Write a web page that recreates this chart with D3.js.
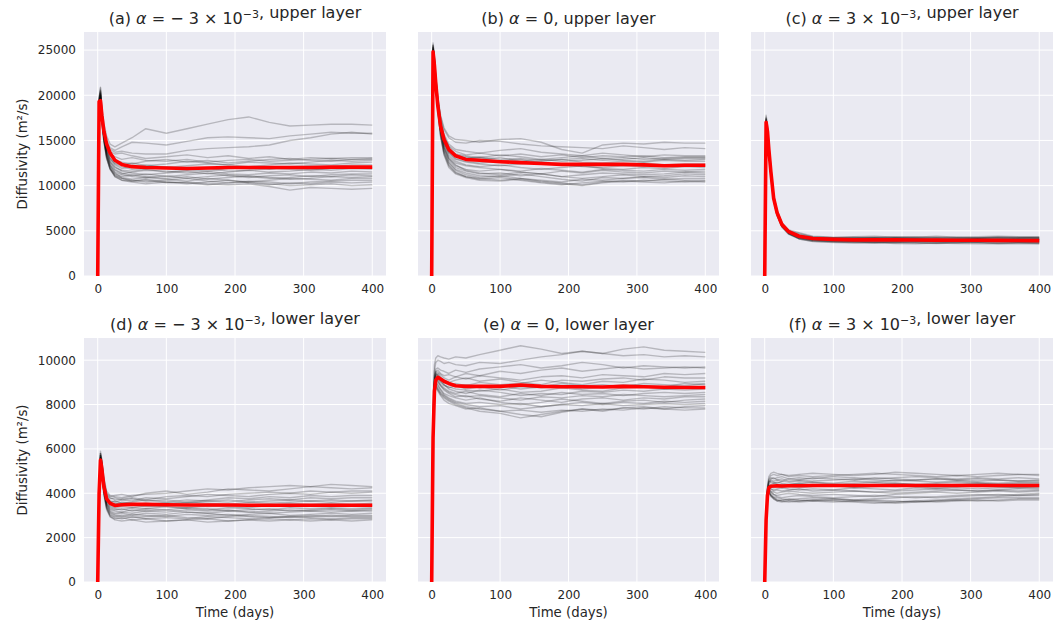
<!DOCTYPE html>
<html>
<head>
<meta charset="utf-8">
<script src="https://cdn.jsdelivr.net/npm/d3@7"></script>
<style>
  body { margin: 0; background: #fff; }
  svg { display: block; }
</style>
</head>
<body>
<div id="chart"></div>
<script>
// sample times (days) shared by every series
const days = [0, 2, 4, 6, 9, 13, 18, 25, 35, 50, 70, 100, 130, 160, 190, 220, 250, 280, 310, 340, 370, 400];

const xTicks = [0, 100, 200, 300, 400];
const upperTicks = [0, 5000, 10000, 15000, 20000, 25000];
const lowerTicks = [0, 2000, 4000, 6000, 8000, 10000];

// (a) alpha = -3e-3, upper layer
const upperNeg = [
  [0,19800,20600,18600,16900,15500,14600,14300,14700,15300,16300,15800,16300,16800,17300,17600,17000,16600,16700,16800,16800,16700],
  [0,19500,20200,18200,16400,15000,14200,13900,14300,14800,14700,14500,14900,15300,15400,15300,15200,15500,15700,15900,15800,15800],
  [0,19000,19800,17800,16000,14700,14000,13700,13800,13600,13500,13500,13900,14100,14200,14300,14500,15000,15300,15700,15900,15700],
  [0,19200,20000,18000,16200,14600,13800,13500,13600,13300,13000,13200,13400,13100,13300,13000,13200,12900,13100,13000,13100,13100],
  [0,18800,19500,17600,15700,14200,13500,13200,12900,13100,12800,12700,12900,12600,12800,12900,12700,12800,12900,13000,12900,13000],
  [0,19600,20800,18400,16200,14300,13300,12800,12600,12400,12700,12900,12600,12800,12500,12700,12900,13000,12800,12700,12900,12900],
  [0,18600,19300,17300,15400,13900,13000,12500,12300,12500,12200,12400,12700,12500,12300,12600,12500,12400,12600,12800,12700,12800],
  [0,19100,20100,17900,15800,14000,12900,12300,11900,12100,12300,12000,12200,12400,12300,12100,12300,12500,12400,12300,12500,12600],
  [0,19400,20400,18100,15900,14100,13100,12400,12100,11800,11900,12100,11800,11600,11900,12000,11800,12100,12200,12100,12300,12300],
  [0,18900,19700,17500,15300,13600,12600,12000,11700,11600,11800,11500,11700,11900,11600,11700,11900,11800,11700,11900,12000,12000],
  [0,19300,20300,17800,15500,13700,12700,12100,11600,11400,11200,11400,11600,11300,11500,11700,11500,11600,11800,11700,11900,11800],
  [0,18700,19400,17200,15000,13300,12300,11700,11300,11500,11700,11600,11400,11600,11300,11200,11400,11300,11500,11400,11600,11500],
  [0,19700,20900,18300,15800,13800,12500,11800,11400,11100,11300,11000,11200,11400,11100,10900,11100,11200,11000,11200,11300,11300],
  [0,19000,19900,17600,15300,13400,12200,11500,11200,11000,10900,11100,10800,11000,11200,11000,10800,10900,11100,11000,11200,11100],
  [0,18500,19200,17000,14800,13000,11900,11300,11000,11200,11000,10800,11000,10700,10900,11100,10900,10700,10800,11000,10900,11000],
  [0,19500,20500,18000,15600,13600,12200,11400,10900,10700,10900,10700,10500,10800,10600,10400,10600,10800,10700,10600,10800,10800],
  [0,18800,19600,17300,15000,13100,11800,11100,10800,10600,10400,10600,10800,10500,10300,10500,10400,10200,10400,10500,10600,10600],
  [0,19200,20200,17700,15200,13200,11900,11000,10600,10500,10700,10400,10200,10400,10600,10300,10100,10300,10200,10400,10300,10400],
  [0,18600,19500,17100,14900,13000,11800,11000,10600,10400,10200,10400,10300,10100,10300,10400,10200,10000,10100,10200,10000,10100],
  [0,19100,20000,17600,15100,13300,12000,11200,10800,10500,10600,10300,10400,10200,10100,10200,9900,9500,9800,9700,9600,9700]
];
const upperNegMean = [0,19300,19400,17800,16000,14600,13600,12800,12350,12100,12000,11950,11900,11950,12000,12000,12000,12000,12000,12050,12050,12050];

// (b) alpha = 0, upper layer
const upperZero = [
  [0,25200,23800,22000,19800,17800,16400,15500,15100,15000,14800,15100,15200,14800,14000,13600,14500,14700,14600,14800,14700,14700],
  [0,24800,23600,21700,19600,17600,16200,15300,14800,14700,15000,14900,14600,14400,14300,14200,14100,14400,14200,14000,14200,14100],
  [0,25500,24200,22100,19700,17300,15700,14600,14000,13800,13600,13900,14100,13700,13500,13300,13600,13400,13200,13400,13300,13300],
  [0,24600,23300,21200,19000,16900,15400,14400,13800,13400,13600,13300,13500,13200,13400,13100,13300,13200,13300,13100,13200,13200],
  [0,25800,24300,22200,19600,17100,15500,14300,13500,13300,13100,13400,13200,12900,13100,13300,13000,13100,12900,13000,13100,13100],
  [0,24900,23500,21400,19200,16900,15300,14100,13400,13000,13200,12900,13000,12800,12900,13000,12800,12900,13100,12900,13000,13000],
  [0,25300,23900,21600,19300,16700,15000,13900,13300,13200,12900,13100,12700,12900,12700,12800,13000,12800,12700,12900,12800,12900],
  [0,24700,23400,21300,18900,16500,14900,13800,13200,13000,13100,12700,12500,12700,12900,12600,12500,12700,12600,12800,12700,12700],
  [0,25400,24000,21800,19200,16600,14800,13700,13000,12700,12500,12700,12900,12500,12300,12200,12400,12300,12500,12300,12400,12400],
  [0,24500,23200,21000,18700,16300,14700,13600,12900,12600,12400,12200,12400,12600,12300,12100,12000,12200,12100,12300,12200,12200],
  [0,25100,23700,21500,19000,16400,14600,13400,12700,12300,12100,12300,12000,11800,12000,12200,11900,11800,12000,11900,12100,12000],
  [0,24800,23500,21200,18800,16200,14400,13200,12500,12200,12000,11800,11600,11900,11700,11500,11800,11700,11600,11800,11700,11800],
  [0,25600,24100,21700,19100,16300,14300,13000,12200,11800,11600,11800,11500,11300,11600,11400,11700,11500,11400,11600,11500,11600],
  [0,24600,23200,21000,18500,16000,14200,13000,12300,11700,11400,11200,11500,11300,11000,11200,11400,11300,11200,11300,11500,11400],
  [0,25000,23600,21300,18700,16100,14100,12800,12000,11600,11300,11400,11100,11300,11000,10800,11000,11200,11000,11100,11300,11200],
  [0,25300,23800,21400,18800,16000,13900,12600,11800,11400,11100,11000,11300,11000,10700,10500,10900,10800,11000,10900,11100,11000],
  [0,24700,23300,20900,18300,15700,13800,12500,11700,11200,10900,11100,10800,10600,10400,10700,10600,10800,10900,10700,10800,10800],
  [0,25200,23700,21200,18400,15600,13600,12300,11500,11000,10800,10600,10800,10500,10300,10100,10400,10600,10500,10700,10600,10600],
  [0,24900,23400,21000,18200,15400,13500,12200,11400,11000,10700,10900,10600,10300,10100,10300,10500,10400,10600,10500,10400,10500],
  [0,25500,24000,21500,18500,15500,13400,12000,11300,10900,10600,10500,10700,10400,10200,10000,10300,10500,10400,10300,10500,10400]
];
const upperZeroMean = [0,24800,23300,21300,18800,16600,15100,14000,13300,12900,12800,12650,12550,12450,12350,12350,12350,12350,12300,12200,12250,12250];

// (c) alpha = 3e-3, upper layer
const upperPos = [
  [0,17800,16700,14600,12000,9000,7300,5900,5100,4800,4400,4300,4350,4400,4300,4350,4250,4300,4350,4400,4350,4350],
  [0,17500,16400,14300,11800,8900,7200,5900,5000,4700,4300,4250,4200,4300,4250,4200,4300,4250,4200,4300,4250,4300],
  [0,17300,16200,14200,11700,8800,7100,5800,5000,4500,4250,4200,4150,4100,4200,4150,4100,4200,4150,4100,4200,4200],
  [0,17100,16100,14100,11600,8700,7100,5800,4950,4450,4200,4100,4150,4200,4100,4050,4150,4100,4150,4200,4150,4150],
  [0,16900,15900,13900,11400,8600,7000,5700,4900,4400,4150,4100,4050,4100,4150,4100,4000,4050,4100,4050,4100,4100],
  [0,16800,15800,13800,11300,8500,6900,5700,4850,4350,4100,4050,4100,4000,4050,4100,4050,4000,4050,4100,4050,4050],
  [0,17200,16100,14000,11500,8600,7000,5700,4900,4400,4200,4000,3950,4050,4000,3950,4000,4050,3950,4000,4000,4000],
  [0,17000,16000,14000,11500,8600,6950,5650,4850,4300,4050,4000,4050,3950,3900,4000,3950,3900,4000,3950,3950,3950],
  [0,16700,15700,13700,11200,8400,6900,5600,4800,4350,4100,3950,3900,3950,4000,3900,3850,3950,3900,3850,3900,3900],
  [0,17400,16300,14200,11600,8700,7000,5650,4800,4300,4000,3900,3950,3900,3850,3900,3950,3850,3800,3900,3850,3850],
  [0,16900,15900,13800,11300,8500,6850,5550,4750,4250,4000,3950,3850,3800,3900,3850,3800,3850,3900,3850,3800,3800],
  [0,17100,16000,13900,11400,8500,6800,5500,4700,4200,3950,3850,3800,3850,3800,3750,3850,3800,3750,3800,3750,3750],
  [0,16600,15600,13600,11100,8300,6700,5500,4700,4200,3950,3800,3850,3750,3700,3800,3750,3700,3800,3750,3700,3700],
  [0,17300,16200,14100,11500,8600,6900,5550,4700,4150,3900,3800,3750,3700,3750,3700,3650,3750,3700,3650,3700,3650],
  [0,16800,15800,13700,11200,8400,6750,5450,4650,4100,3850,3750,3700,3650,3700,3650,3600,3650,3700,3600,3650,3600],
  [0,17000,15900,13800,11300,8400,6700,5400,4600,4100,3800,3700,3650,3700,3600,3550,3650,3600,3550,3600,3550,3550],
  [0,17600,16500,14400,11800,8800,7100,5800,5000,4600,4350,4250,4300,4250,4350,4300,4400,4300,4250,4300,4300,4250],
  [0,17200,16100,14000,11500,8600,7000,5700,4900,4500,4200,4150,4200,4250,4200,4250,4200,4150,4200,4250,4200,4200],
  [0,16900,15900,13800,11300,8500,6900,5650,4850,4350,4050,4000,4000,3950,4050,4000,3950,4000,4000,3950,4000,4000],
  [0,17400,16300,14200,11600,8700,7000,5700,4900,4400,4100,4050,4000,4050,3950,4050,4000,3950,4050,4000,4050,4050]
];
const upperPosMean = [0,17000,16000,14000,11500,8600,7000,5700,4900,4400,4150,4050,4000,4000,4000,3980,3970,3960,3950,3940,3920,3910];

// (d) alpha = -3e-3, lower layer
const lowerNeg = [
  [0,4200,5800,5500,4700,4100,3900,3850,3800,3900,3950,4000,4100,4200,4150,4250,4300,4350,4300,4400,4350,4300],
  [0,4000,5600,5300,4600,4000,3850,3900,3950,3850,4000,4100,3950,4050,4200,4150,4100,4200,4300,4250,4200,4250],
  [0,4100,5700,5400,4500,3950,3800,3700,3750,3800,3700,3850,3900,3850,3950,4000,4050,4000,4100,4050,4100,4100],
  [0,3900,5500,5200,4400,3900,3750,3800,3700,3650,3800,3750,3850,3950,3900,3850,3950,4000,3950,4050,4000,4050],
  [0,4200,5900,5500,4500,3850,3650,3600,3700,3750,3650,3700,3600,3700,3800,3750,3850,3800,3900,3850,3900,3900],
  [0,4000,5600,5300,4400,3800,3600,3650,3550,3600,3700,3600,3700,3650,3600,3700,3750,3700,3800,3750,3800,3800],
  [0,3800,5400,5100,4300,3750,3550,3500,3600,3550,3500,3600,3550,3650,3700,3600,3650,3700,3650,3700,3650,3700],
  [0,4100,5800,5400,4400,3750,3500,3550,3500,3450,3550,3500,3600,3550,3500,3600,3550,3600,3650,3600,3650,3650],
  [0,3900,5500,5100,4200,3650,3450,3400,3450,3500,3400,3450,3500,3400,3450,3500,3450,3550,3500,3550,3500,3550],
  [0,4000,5700,5300,4300,3650,3400,3350,3400,3350,3450,3400,3350,3450,3400,3350,3450,3400,3450,3400,3450,3450],
  [0,3800,5300,5000,4100,3550,3350,3300,3250,3350,3300,3400,3300,3250,3350,3300,3250,3350,3300,3350,3300,3350],
  [0,4100,5700,5200,4200,3550,3300,3250,3300,3200,3300,3250,3350,3300,3200,3250,3300,3200,3250,3300,3250,3300],
  [0,3900,5400,5000,4100,3500,3250,3200,3150,3250,3200,3150,3250,3200,3250,3150,3200,3250,3200,3250,3200,3250],
  [0,4000,5600,5200,4200,3500,3200,3100,3150,3100,3200,3250,3150,3100,3200,3150,3100,3150,3200,3150,3200,3200],
  [0,3800,5300,4900,4000,3400,3150,3050,3100,3000,3100,3050,3150,3100,3000,3050,3100,3000,3050,3100,3050,3100],
  [0,4200,5800,5300,4200,3450,3100,3000,2950,3050,3000,2950,3050,3000,3050,2950,2900,2950,3000,2950,3000,3000],
  [0,3900,5500,5000,4000,3350,3050,2950,3000,2900,2950,3000,2900,2850,2950,3000,2950,2900,2950,3000,2950,2950],
  [0,4000,5600,5100,4000,3300,3000,2900,2850,2950,2850,2900,2850,2950,2900,2850,2900,2950,2900,2850,2900,2900],
  [0,3800,5400,4900,3900,3250,2950,2850,2900,2800,2850,2750,2800,2850,2750,2800,2850,2800,2850,2800,2850,2850],
  [0,4100,5700,5200,4100,3350,2950,2800,2750,2800,2700,2750,2800,2700,2750,2800,2750,2800,2750,2800,2750,2800]
];
const lowerNegMean = [0,4000,5500,5100,4300,3750,3550,3450,3480,3500,3500,3480,3470,3470,3470,3460,3460,3460,3460,3460,3460,3460];

// (e) alpha = 0, lower layer
const lowerZero = [
  [0,8000,9800,10100,10200,10150,10100,10050,10150,10100,10250,10450,10650,10500,10300,10400,10300,10500,10600,10450,10400,10350],
  [0,7500,9500,9900,10000,9950,9850,9900,9800,9750,9900,9850,10000,10150,10250,10400,10300,10200,10250,10150,10200,10150],
  [0,7300,9300,9600,9650,9550,9500,9400,9550,9450,9600,9700,9800,9650,9750,9900,9800,9650,9750,9700,9650,9700],
  [0,7000,9100,9500,9550,9400,9300,9350,9250,9400,9300,9500,9400,9550,9650,9500,9600,9700,9600,9650,9700,9650],
  [0,7200,9200,9500,9450,9350,9200,9100,9250,9150,9300,9200,9100,9250,9300,9200,9350,9300,9250,9400,9350,9400],
  [0,6800,9000,9350,9400,9250,9100,9000,9100,9200,9050,9150,9000,8900,9100,9050,9150,9200,9100,9250,9200,9200],
  [0,7100,9100,9450,9300,9150,9000,8900,8950,8850,9000,8900,8950,9100,9000,8900,9050,9000,9150,9100,9000,9050],
  [0,6600,8900,9300,9350,9200,9050,8950,8800,8900,8750,8850,8700,8800,8950,8850,8900,8800,8950,8900,8850,8950],
  [0,6900,9000,9400,9250,9100,8900,8750,8850,8700,8800,8650,8800,8750,8850,8700,8800,8900,8850,8800,8950,8900],
  [0,6400,8700,9200,9150,9000,8850,8800,8700,8650,8600,8700,8550,8600,8750,8650,8600,8750,8800,8700,8750,8800],
  [0,6700,8900,9300,9200,9050,8900,8700,8600,8500,8650,8550,8400,8500,8450,8600,8550,8650,8600,8700,8650,8700],
  [0,6500,8800,9200,9100,8900,8750,8600,8500,8600,8450,8350,8500,8400,8550,8450,8500,8400,8500,8550,8500,8550],
  [0,6300,8600,9100,9000,8850,8700,8550,8450,8350,8400,8300,8200,8350,8300,8400,8350,8450,8400,8350,8400,8450],
  [0,6600,8800,9150,9050,8850,8650,8500,8350,8400,8250,8150,8300,8200,8100,8250,8300,8200,8300,8250,8350,8350],
  [0,6200,8500,9000,8900,8700,8500,8400,8300,8200,8300,8100,8000,8100,8250,8150,8050,8150,8200,8100,8200,8250],
  [0,6400,8600,9000,8850,8650,8450,8300,8150,8050,8100,8000,8050,7900,8000,8100,8000,8100,8050,8150,8100,8150],
  [0,6100,8400,8900,8750,8550,8400,8250,8100,8000,7900,7950,7800,7900,8000,7950,8050,7950,8000,8050,8000,8050],
  [0,6300,8500,8900,8700,8500,8350,8200,8050,7900,7800,7700,7550,7450,7650,7800,7700,7850,7900,7800,7900,7950],
  [0,6000,8300,8800,8650,8450,8300,8150,8000,7850,7700,7600,7400,7550,7700,7800,7750,7850,7800,7900,7850,7850],
  [0,6200,8400,8800,8600,8400,8200,8050,7950,7800,7850,7700,7750,7650,7750,7700,7800,7750,7850,7800,7750,7800]
];
const lowerZeroMean = [0,6500,8600,9100,9230,9150,9050,8950,8850,8820,8820,8820,8880,8820,8800,8800,8790,8820,8800,8780,8770,8770];

// (f) alpha = 3e-3, lower layer
const lowerPos = [
  [0,3000,4300,4750,4900,4950,4900,4850,4800,4850,4900,4850,4800,4850,4950,4900,4850,4800,4850,4900,4850,4850],
  [0,2900,4200,4650,4800,4850,4800,4850,4750,4800,4750,4800,4850,4900,4850,4800,4750,4800,4750,4800,4850,4800],
  [0,2950,4250,4600,4700,4650,4700,4750,4650,4700,4650,4750,4700,4650,4700,4750,4700,4650,4700,4650,4700,4650],
  [0,2800,4100,4500,4650,4700,4600,4550,4650,4600,4700,4650,4600,4700,4650,4600,4650,4600,4650,4600,4550,4600],
  [0,2850,4150,4500,4600,4550,4600,4650,4550,4600,4550,4600,4650,4600,4550,4600,4650,4600,4550,4600,4550,4550],
  [0,2750,4050,4400,4550,4500,4450,4550,4500,4550,4500,4450,4550,4500,4600,4550,4500,4550,4500,4450,4500,4500],
  [0,2900,4200,4550,4500,4450,4500,4450,4400,4450,4500,4400,4450,4500,4450,4400,4450,4500,4450,4400,4450,4450],
  [0,2800,4000,4350,4400,4450,4400,4350,4400,4450,4350,4400,4350,4400,4450,4400,4350,4400,4450,4400,4400,4400],
  [0,2700,3950,4300,4350,4300,4350,4400,4300,4350,4400,4350,4300,4350,4300,4350,4400,4350,4300,4350,4350,4350],
  [0,2850,4100,4350,4300,4250,4300,4250,4300,4250,4300,4350,4250,4300,4350,4300,4250,4300,4350,4300,4250,4300],
  [0,2750,4000,4250,4200,4150,4200,4250,4200,4150,4200,4150,4250,4200,4150,4250,4200,4250,4200,4250,4250,4250],
  [0,2900,4150,4300,4200,4100,4150,4100,4150,4200,4100,4150,4100,4050,4100,4150,4200,4150,4100,4150,4200,4200],
  [0,2800,4000,4200,4100,4050,4000,4050,4100,4050,4000,4050,4100,4050,4000,4050,4100,4150,4100,4150,4100,4150],
  [0,2700,3950,4150,4050,3950,3900,3950,4000,3950,3900,3950,3900,3850,3950,4000,4050,4000,4050,4100,4050,4100],
  [0,2850,4050,4200,4050,3950,3850,3800,3850,3900,3850,3800,3850,3900,3850,3800,3850,3900,3950,3900,3950,4000],
  [0,2750,3950,4100,3950,3850,3800,3750,3700,3750,3800,3750,3700,3750,3800,3850,3800,3850,3900,3950,3900,3950],
  [0,2800,3900,4050,3900,3800,3700,3650,3700,3650,3700,3750,3700,3650,3600,3650,3700,3750,3800,3850,3900,3900],
  [0,2700,3850,4000,3850,3750,3650,3600,3650,3600,3650,3600,3650,3600,3550,3600,3650,3700,3750,3800,3800,3800],
  [0,2800,3950,4100,3900,3750,3650,3700,3750,3700,3650,3700,3650,3700,3650,3600,3650,3700,3650,3700,3750,3750],
  [0,2750,3900,4050,3900,3800,3700,3650,3600,3650,3700,3650,3600,3550,3600,3650,3600,3650,3700,3650,3700,3700]
];
const lowerPosMean = [0,2800,3900,4250,4320,4330,4340,4330,4340,4340,4350,4350,4350,4350,4350,4350,4350,4350,4350,4350,4350,4350];

const panelLabels = ['(a)', '(b)', '(c)', '(d)', '(e)', '(f)'];
const alphaLabels = ['neg', 'zero', 'pos'];
const layerNames = ['upper layer', 'lower layer'];

const width = 1063;
const height = 623;
const colX = [[84, 386], [418, 719], [751, 1053]];
const rowY = [[32, 276], [338, 582]];
const textColor = '#262626';

const panels = [
  { members: upperNeg, mean: upperNegMean, row: 0, col: 0 },
  { members: upperZero, mean: upperZeroMean, row: 0, col: 1 },
  { members: upperPos, mean: upperPosMean, row: 0, col: 2 },
  { members: lowerNeg, mean: lowerNegMean, row: 1, col: 0 },
  { members: lowerZero, mean: lowerZeroMean, row: 1, col: 1 },
  { members: lowerPos, mean: lowerPosMean, row: 1, col: 2 }
];

const svg = d3.select('#chart').append('svg')
  .attr('width', width)
  .attr('height', height)
  .style('font-family', '"DejaVu Sans", sans-serif');

panels.forEach((p, k) => {
  const [x0, x1] = colX[p.col];
  const [y0, y1] = rowY[p.row];

  const x = d3.scaleLinear().domain([-20, 420]).range([x0, x1]);
  const y = d3.scaleLinear()
    .domain(p.row === 0 ? [0, 27000] : [0, 11000])
    .range([y1, y0]);
  const yTicks = p.row === 0 ? upperTicks : lowerTicks;

  const g = svg.append('g');

  g.append('rect')
    .attr('x', x0).attr('y', y0)
    .attr('width', x1 - x0).attr('height', y1 - y0)
    .attr('fill', '#EAEAF2');

  // grid
  g.selectAll('.vgrid')
    .data(xTicks)
    .enter().append('line')
    .attr('x1', d => x(d)).attr('x2', d => x(d))
    .attr('y1', y0).attr('y2', y1)
    .attr('stroke', '#fff').attr('stroke-width', 1);

  g.selectAll('.hgrid')
    .data(yTicks)
    .enter().append('line')
    .attr('x1', x0).attr('x2', x1)
    .attr('y1', d => y(d)).attr('y2', d => y(d))
    .attr('stroke', '#fff').attr('stroke-width', 1);

  const line = d3.line()
    .x((d, i) => x(days[i]))
    .y(d => y(d));

  g.append('g')
    .selectAll('path')
    .data(p.members)
    .enter().append('path')
    .attr('d', line)
    .attr('fill', 'none')
    .attr('stroke', '#000')
    .attr('stroke-opacity', 0.22)
    .attr('stroke-width', 1.4)
    .attr('stroke-linejoin', 'round');

  g.append('path')
    .attr('d', line(p.mean))
    .attr('fill', 'none')
    .attr('stroke', '#ff0000')
    .attr('stroke-width', 3.6)
    .attr('stroke-linejoin', 'round');

  // x axis
  const xAxis = g.append('g')
    .attr('transform', `translate(0,${y1})`)
    .call(d3.axisBottom(x).tickValues(xTicks).tickSize(0).tickPadding(8));
  xAxis.select('.domain').remove();
  xAxis.selectAll('text')
    .attr('fill', textColor)
    .style('font-size', '12px')
    .style('font-family', '"DejaVu Sans", sans-serif');

  // y axis, only on first column
  if (p.col === 0) {
    const yAxis = g.append('g')
      .attr('transform', `translate(${x0},0)`)
      .call(d3.axisLeft(y).tickValues(yTicks).tickSize(0).tickPadding(8).tickFormat(d3.format('d')));
    yAxis.select('.domain').remove();
    yAxis.selectAll('text')
      .attr('fill', textColor)
      .style('font-size', '12px')
      .style('font-family', '"DejaVu Sans", sans-serif');

    svg.append('text')
      .attr('transform', `translate(27,${(y0 + y1) / 2}) rotate(-90)`)
      .attr('text-anchor', 'middle')
      .attr('fill', textColor)
      .style('font-size', '13.3px')
      .text('Diffusivity (m²/s)');
  }

  if (p.row === 1) {
    svg.append('text')
      .attr('x', (x0 + x1) / 2)
      .attr('y', 617)
      .attr('text-anchor', 'middle')
      .attr('fill', textColor)
      .style('font-size', '13.3px')
      .text('Time (days)');
  }

  // title
  const title = svg.append('text')
    .attr('x', (x0 + x1) / 2)
    .attr('y', y0 - 8)
    .attr('text-anchor', 'middle')
    .attr('fill', textColor)
    .style('font-size', '16px');

  title.append('tspan').text(panelLabels[k] + ' ');
  title.append('tspan').style('font-style', 'italic').text('α');
  const kind = alphaLabels[p.col];
  if (kind === 'zero') {
    title.append('tspan').text(' = 0');
  } else {
    title.append('tspan').text(kind === 'neg' ? ' = − 3 × 10' : ' = 3 × 10');
    title.append('tspan').attr('dy', -6).style('font-size', '11px').text('−3');
    title.append('tspan').attr('dy', 6).text('');
  }
  title.append('tspan').text(', ' + layerNames[p.row]);
});
</script>
</body>
</html>
